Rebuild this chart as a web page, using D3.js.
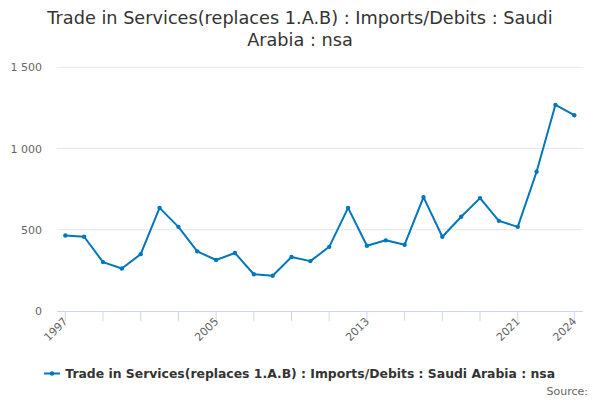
<!DOCTYPE html>
<html><head><meta charset="utf-8">
<script src="https://cdn.jsdelivr.net/npm/d3@7"></script>
<style>body{margin:0;background:#fff;}svg{display:block;font-family:"DejaVu Sans",sans-serif;}</style>
</head><body>
<svg id="c" width="600" height="400"></svg>
<script>
const years = [1997,1998,1999,2000,2001,2002,2003,2004,2005,2006,2007,2008,2009,2010,2011,2012,2013,2014,2015,2016,2017,2018,2019,2020,2021,2022,2023,2024];
const values = [465,457,301,262,350,635,518,367,314,357,226,217,332,307,395,635,402,435,408,701,457,580,695,555,518,857,1269,1205];
const yTicks = [0,500,1000,1500];
const xTicks = [1997,1999,2001,2003,2005,2007,2009,2011,2013,2015,2017,2019,2021,2024];
const xLabels = [1997,2005,2013,2021,2024];
const titleLines = ["Trade in Services(replaces 1.A.B) : Imports/Debits : Saudi","Arabia : nsa"];
const seriesName = "Trade in Services(replaces 1.A.B) : Imports/Debits : Saudi Arabia : nsa";
const color = "#0077bb";

(function(){
const svg = d3.select("#c");
const pLeft = 57, pRight = 583, pTop = 67.3, pBottom = 311;
const x = d3.scaleLinear().domain([1997,2024]).range([65.3,574.3]);
const y = d3.scaleLinear().domain([0,1500]).range([pBottom,pTop]);

svg.append("g").selectAll("text").data(titleLines).join("text")
  .attr("x",300).attr("y",(d,i)=>24.3+i*21.5).attr("text-anchor","middle")
  .attr("font-size",17.7).attr("fill","#333").text(d=>d);

svg.append("g").selectAll("line").data(yTicks.filter(d=>d>0)).join("line")
  .attr("x1",pLeft).attr("x2",pRight).attr("y1",d=>y(d)).attr("y2",d=>y(d))
  .attr("stroke","#e6e6e6").attr("stroke-width",1);
const fmt = d => d>=1000 ? d3.format(",")(d).replace(",", " ") : String(d);
svg.append("g").selectAll("text").data(yTicks).join("text")
  .attr("x",42).attr("y",d=>y(d)+4).attr("text-anchor","end")
  .attr("font-size",11).attr("fill","#666").text(fmt);

svg.append("line").attr("x1",pLeft).attr("x2",pRight).attr("y1",pBottom+0.5).attr("y2",pBottom+0.5).attr("stroke","#ccd6eb");
svg.append("g").selectAll("line").data(xTicks).join("line")
  .attr("x1",d=>x(d)).attr("x2",d=>x(d)).attr("y1",pBottom).attr("y2",pBottom+10).attr("stroke","#ccd6eb");
svg.append("g").selectAll("text").data(xLabels).join("text")
  .attr("transform",d=>`translate(${x(d)+3},${pBottom+11}) rotate(-45)`)
  .attr("text-anchor","end").attr("font-size",11).attr("fill","#666").text(d=>d);

const data = years.map((yr,i)=>({yr,v:values[i]}));
svg.append("path").datum(data).attr("fill","none").attr("stroke",color).attr("stroke-width",2)
  .attr("stroke-linejoin","round")
  .attr("d",d3.line().x(d=>x(d.yr)).y(d=>y(d.v)));
svg.append("g").selectAll("circle").data(data).join("circle")
  .attr("cx",d=>x(d.yr)).attr("cy",d=>y(d.v)).attr("r",2.2).attr("fill",color);

const lg = svg.append("g");
lg.append("text").attr("x",65.3).attr("y",378).attr("font-size",12.4).attr("font-weight","bold").attr("fill","#333").text(seriesName);
lg.append("line").attr("x1",44).attr("x2",60).attr("y1",373.5).attr("y2",373.5).attr("stroke",color).attr("stroke-width",2);
lg.append("circle").attr("cx",52).attr("cy",373.5).attr("r",2.2).attr("fill",color);

svg.append("text").attr("x",588).attr("y",395).attr("text-anchor","end").attr("font-size",11).attr("fill","#666").text("Source:");
})();
</script>
</body></html>
